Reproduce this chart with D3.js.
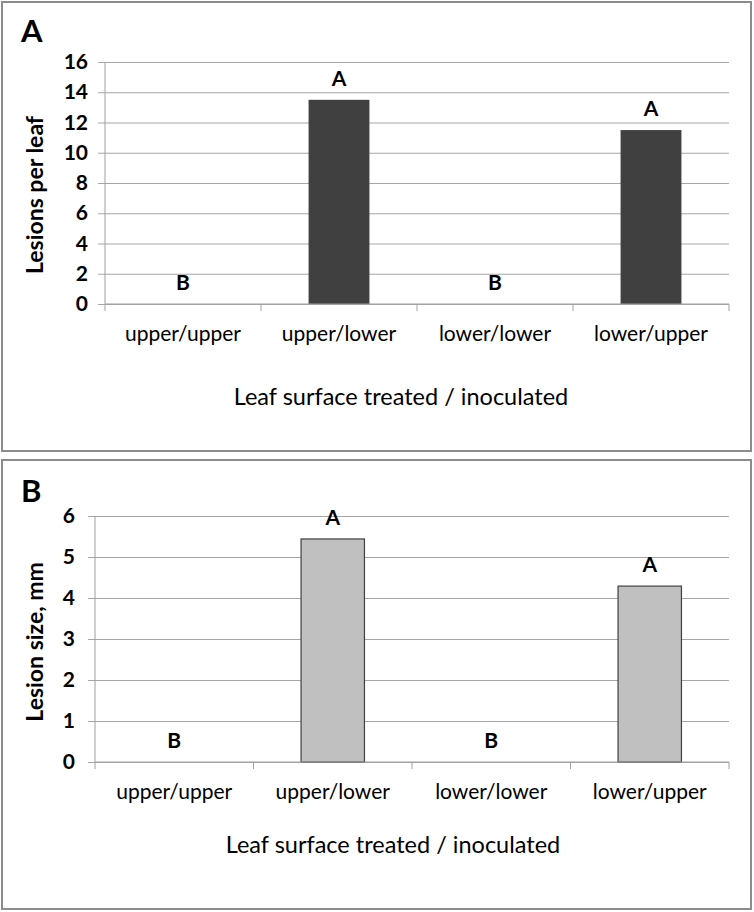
<!DOCTYPE html>
<html>
<head>
<meta charset="utf-8">
<script src="https://cdn.jsdelivr.net/npm/d3@7"></script>
<style>
  body { margin: 0; background: #fff; }
  svg { display: block; font-family: Lato, 'Open Sans', sans-serif; }
  .grid line { stroke: #a6a6a6; stroke-width: 1; }
</style>
</head>
<body>
<script>
// ---- data ----
const categories = ['upper/upper', 'upper/lower', 'lower/lower', 'lower/upper']
const lesionsPerLeaf = [0, 13.5, 0, 11.5]
const lesionSize = [0, 5.44, 0, 4.29]
const lettersA = ['B', 'A', 'B', 'A']
const lettersB = ['B', 'A', 'B', 'A']
const lesionTicks = [0, 2, 4, 6, 8, 10, 12, 14, 16]
const sizeTicks = [0, 1, 2, 3, 4, 5, 6]

const W = 754, H = 912

const svg = d3.select('body').append('svg')
    .attr('width', W)
    .attr('height', H)

function drawPanel(opt) {
    const g = svg.append('g')

    // frame
    g.append('rect')
        .attr('x', opt.frame[0]).attr('y', opt.frame[1])
        .attr('width', opt.frame[2]).attr('height', opt.frame[3])
        .attr('fill', 'none')
        .attr('stroke', '#8c8c8c')
        .attr('stroke-width', 2)

    g.append('text')
        .attr('x', opt.frame[0] + 19)
        .attr('y', opt.frame[1] + opt.panelY)
        .attr('font-size', 31)
        .attr('font-weight', 'bold')
        .text(opt.panel)

    const left = opt.left, right = 729, top = opt.top, bottom = opt.bottom

    const y = d3.scaleLinear()
        .domain([0, d3.max(opt.ticks)])
        .range([bottom, top])

    const xBand = d3.scaleBand()
        .domain(categories)
        .range([left, right])

    const xBar = d3.scaleBand()
        .domain(categories)
        .range([left, right])
        .paddingInner(opt.pad)
        .paddingOuter(opt.pad / 2)

    // gridlines + y ticks
    const yAxis = g.append('g')
        .attr('class', 'grid')
        .attr('transform', 'translate(' + left + ',0)')
        .call(d3.axisLeft(y).tickValues(opt.ticks).tickFormat(d3.format('d'))
            .tickSize(-(right - left)).tickSizeOuter(0).tickPadding(0))
    yAxis.select('.domain').remove()
    yAxis.selectAll('.tick line').attr('x1', -7)
    yAxis.selectAll('.tick text')
        .attr('x', opt.ytickX)
        .attr('font-family', 'Lato, sans-serif')
        .attr('font-size', 21)
        .attr('font-weight', 'bold')
        .attr('fill', '#000')

    // y axis line
    g.append('line')
        .attr('x1', left).attr('x2', left)
        .attr('y1', top).attr('y2', bottom)
        .attr('stroke', '#a0a0a0')

    // bars
    g.selectAll('.bar')
        .data(opt.values)
        .enter().append('rect')
        .attr('class', 'bar')
        .attr('x', (d, i) => xBar(categories[i]))
        .attr('y', d => y(d))
        .attr('width', xBar.bandwidth())
        .attr('height', d => bottom - y(d))
        .attr('fill', opt.fill)
        .attr('stroke', opt.stroke)
        .attr('stroke-width', opt.stroke === 'none' ? 0 : 1.2)

    // x axis line and boundary ticks
    g.append('line')
        .attr('x1', left).attr('x2', right)
        .attr('y1', bottom).attr('y2', bottom)
        .attr('stroke', '#a0a0a0')
    const bounds = categories.map(c => xBand(c)).concat([right])
    g.selectAll('.xtick')
        .data(bounds)
        .enter().append('line')
        .attr('class', 'xtick')
        .attr('x1', d => d).attr('x2', d => d)
        .attr('y1', bottom).attr('y2', bottom + 7)
        .attr('stroke', '#a0a0a0')

    // category labels
    g.selectAll('.xlab')
        .data(categories)
        .enter().append('text')
        .attr('class', 'xlab')
        .attr('x', d => xBand(d) + xBand.bandwidth() / 2)
        .attr('y', bottom + opt.xlabOff)
        .attr('text-anchor', 'middle')
        .attr('font-size', 21)
        .text(d => d)

    // significance letters
    g.selectAll('.letter')
        .data(opt.values)
        .enter().append('text')
        .attr('class', 'letter')
        .attr('x', (d, i) => xBand(categories[i]) + xBand.bandwidth() / 2)
        .attr('y', d => y(d) - 14)
        .attr('text-anchor', 'middle')
        .attr('font-size', 21)
        .attr('font-weight', 'bold')
        .text((d, i) => opt.letters[i])

    // axis titles
    g.append('text')
        .attr('transform', 'translate(' + 43 + ',' + opt.ytitleY + ') rotate(-90)')
        .attr('text-anchor', 'middle')
        .attr('font-size', 23)
        .attr('font-weight', 'bold')
        .text(opt.ytitle)

    g.append('text')
        .attr('x', opt.xtitleX)
        .attr('y', opt.xtitleY)
        .attr('text-anchor', 'middle')
        .attr('font-size', 23.5)
        .text('Leaf surface treated / inoculated')
}

drawPanel({
    panel: 'A',
    frame: [2, 2, 749, 449],
    panelY: 40,
    left: 105, top: 62, bottom: 304,
    ticks: lesionTicks,
    ytickX: -17,
    values: lesionsPerLeaf,
    letters: lettersA,
    pad: 0.61,
    fill: '#404040',
    stroke: 'none',
    xlabOff: 37,
    ytitle: 'Lesions per leaf',
    ytitleY: 195,
    xtitleX: 401,
    xtitleY: 405
})

drawPanel({
    panel: 'B',
    frame: [2, 460, 749, 449],
    panelY: 42,
    left: 95, top: 516, bottom: 762,
    ticks: sizeTicks,
    ytickX: -20,
    values: lesionSize,
    letters: lettersB,
    pad: 0.6,
    fill: '#c0c0c0',
    stroke: '#404040',
    xlabOff: 37,
    ytitle: 'Lesion size, mm',
    ytitleY: 642,
    xtitleX: 393,
    xtitleY: 853
})
</script>
</body>
</html>
